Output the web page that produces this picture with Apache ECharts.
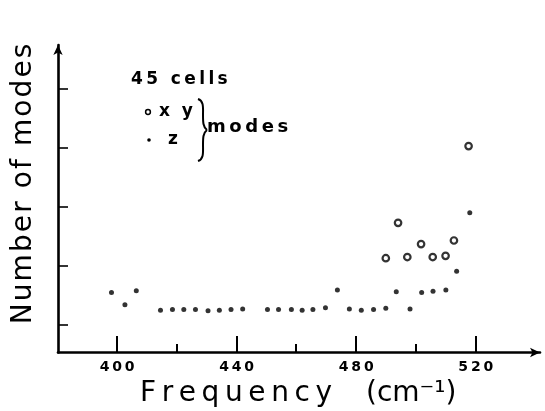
<!DOCTYPE html>
<html>
<head>
<meta charset="utf-8">
<script src="https://cdn.jsdelivr.net/npm/echarts@6/dist/echarts.min.js"></script>
<style>
html,body{margin:0;padding:0;background:#fff;}
#chart{width:545px;height:411px;}
</style>
</head>
<body>
<div id="chart"></div>
<script>
// ---- data ----
var xyFreq = [489.9, 494.0, 497.1, 501.7, 505.6, 509.9, 512.7, 517.6];
var xyVal  = [2.12, 2.72, 2.14, 2.36, 2.14, 2.16, 2.42, 4.02];
var zFreq = [398.1, 402.6, 406.4, 414.5, 418.5, 422.3, 426.2, 430.4, 434.2, 438.1, 442.0,
             450.3, 454.0, 458.3, 461.9, 465.5, 469.7, 473.7, 477.7, 481.7, 485.8, 489.9,
             493.4, 498.0, 501.9, 505.7, 510.0, 513.6, 518.0];
var zVal  = [1.54, 1.33, 1.57, 1.24, 1.25, 1.25, 1.25, 1.23, 1.24, 1.25, 1.26,
             1.25, 1.25, 1.25, 1.24, 1.25, 1.28, 1.58, 1.26, 1.24, 1.25, 1.27,
             1.55, 1.26, 1.54, 1.56, 1.58, 1.90, 2.89];
var xMajorTicks = [400, 440, 480, 520];
var xMinorTicks = [420, 460, 500];
var yTicks = [1, 2, 3, 4, 5];
var legendTitle = '45 cells';
var xyLabel = 'x  y';
var zLabel = 'z';
var modesLabel = 'modes';
var xTitle = 'Frequency';
var xUnit = '(cm\u207B\u00B9)';
var yTitle = 'Number of modes';

function zip(a, b) { return a.map(function (v, i) { return [v, b[i]]; }); }
function spaced(s) { return s.split('').join('\u2009'); }
function richSpaced(s) {
  return s.split('').map(function (c) { return '{c|' + c + '}'; }).join('{g|\u2009}');
}

var FONT = '"DejaVu Sans", "Liberation Sans", sans-serif';
var chart = echarts.init(document.getElementById('chart'), null, {renderer: 'canvas'});

var X_MIN = 380.2, X_MAX = 541.5, Y_MIN = 0.522, Y_MAX = 5.734;
var G_LEFT = 58, G_RIGHT = 5, G_TOP = 45, G_BOTTOM = 58.5, W = 545, H = 411;

function bez(x1, y1, c1x, c1y, c2x, c2y, x2, y2) {
  return {type: 'bezierCurve',
          shape: {x1: x1, y1: y1, cpx1: c1x, cpy1: c1y, cpx2: c2x, cpy2: c2y, x2: x2, y2: y2},
          style: {fill: null, stroke: '#000', lineWidth: 2}};
}

var baseGraphic = [
  {type: 'text', x: 131, y: 80,
   style: {text: spaced(legendTitle), font: 'bold 17px ' + FONT, fill: '#000', verticalAlign: 'middle'}},
  {type: 'circle', shape: {cx: 148, cy: 112, r: 2.4},
   style: {fill: '#fff', stroke: '#000', lineWidth: 1.5}},
  {type: 'text', x: 159, y: 112,
   style: {text: xyLabel, font: 'bold 17px ' + FONT, fill: '#000', verticalAlign: 'middle'}},
  {type: 'circle', shape: {cx: 149, cy: 140, r: 1.8}, style: {fill: '#000'}},
  {type: 'text', x: 168, y: 140,
   style: {text: zLabel, font: 'bold 17px ' + FONT, fill: '#000', verticalAlign: 'middle'}},
  bez(198, 99, 204, 101, 203, 108, 203, 115),
  bez(203, 115, 203, 122, 203, 127, 207, 130),
  bez(207, 130, 203, 133, 203, 138, 203, 145),
  bez(203, 145, 203, 152, 204, 159, 198, 161),
  {type: 'text', x: 207, y: 127,
   style: {text: spaced(modesLabel), font: 'bold 18px ' + FONT, fill: '#000', verticalAlign: 'middle'}},
  {type: 'text', x: 140, y: 394,
   style: {text: spaced(xTitle), font: '28px ' + FONT, fill: '#000', verticalAlign: 'middle'}},
  {type: 'text', x: 366, y: 394,
   style: {text: xUnit, font: '28px ' + FONT, fill: '#000', verticalAlign: 'middle'}},
  {type: 'text', x: 24, y: 184, rotation: Math.PI / 2,
   style: {text: richSpaced(yTitle), fill: '#000', align: 'center', verticalAlign: 'middle',
           rich: {c: {fontFamily: FONT, fontSize: 28, fill: '#000'},
                  g: {fontFamily: FONT, fontSize: 10.5, fill: '#000'}}}}
];

var option = {
  backgroundColor: '#fff',
  animation: false,
  grid: {left: G_LEFT, right: G_RIGHT, top: G_TOP, bottom: G_BOTTOM, containLabel: false},
  xAxis: {
    type: 'value', min: X_MIN, max: X_MAX,
    splitLine: {show: false},
    axisLine: {show: true, lineStyle: {color: '#000', width: 2.6},
               symbol: ['none', 'arrow'], symbolSize: [7, 10]},
    axisTick: {show: false},
    axisLabel: {show: true, customValues: xMajorTicks, margin: 8,
                color: '#000', fontFamily: FONT, fontWeight: 'bold', fontSize: 14,
                formatter: function (v) { return spaced(String(v)); }}
  },
  yAxis: {
    type: 'value', min: Y_MIN, max: Y_MAX, splitLine: {show: false},
    axisLine: {show: true, lineStyle: {color: '#000', width: 2.6},
               symbol: ['none', 'arrow'], symbolSize: [7, 10]},
    axisTick: {show: true, inside: true, length: 10, customValues: yTicks,
               lineStyle: {color: '#000', width: 1.6}},
    axisLabel: {show: false}
  },
  series: [
    {
      name: 'xy', type: 'scatter', data: zip(xyFreq, xyVal),
      symbol: 'circle', symbolSize: 6.5,
      itemStyle: {color: '#fff', borderColor: '#000', borderWidth: 2.2}
    },
    {
      name: 'z', type: 'scatter', data: zip(zFreq, zVal),
      symbol: 'circle', symbolSize: 5,
      itemStyle: {color: '#000'}
    }
  ],
  graphic: baseGraphic
};
chart.setOption(option);

// frequency-axis tick marks, positioned through the axis scale
function xPix(v) {
  var p = chart.convertToPixel({xAxisIndex: 0}, v);
  if (Array.isArray(p)) p = p[0];
  if (typeof p !== 'number' || !isFinite(p)) {
    p = G_LEFT + (v - X_MIN) / (X_MAX - X_MIN) * (W - G_LEFT - G_RIGHT);
  }
  return p;
}
var baseY = chart.convertToPixel({yAxisIndex: 0}, Y_MIN);
if (Array.isArray(baseY)) baseY = baseY[1];
if (typeof baseY !== 'number' || !isFinite(baseY)) baseY = H - G_BOTTOM;

function tickRect(v, len) {
  var px = Math.round(xPix(v));
  return {type: 'rect', z: 100, silent: true,
          shape: {x: px - 1, y: Math.round(baseY) - len, width: 2, height: len},
          style: {fill: '#000'}};
}
var tickGraphic = xMajorTicks.map(function (v) { return tickRect(v, 17); })
  .concat(xMinorTicks.map(function (v) { return tickRect(v, 9); }));
chart.setOption({graphic: baseGraphic.concat(tickGraphic)});
</script>
</body>
</html>
